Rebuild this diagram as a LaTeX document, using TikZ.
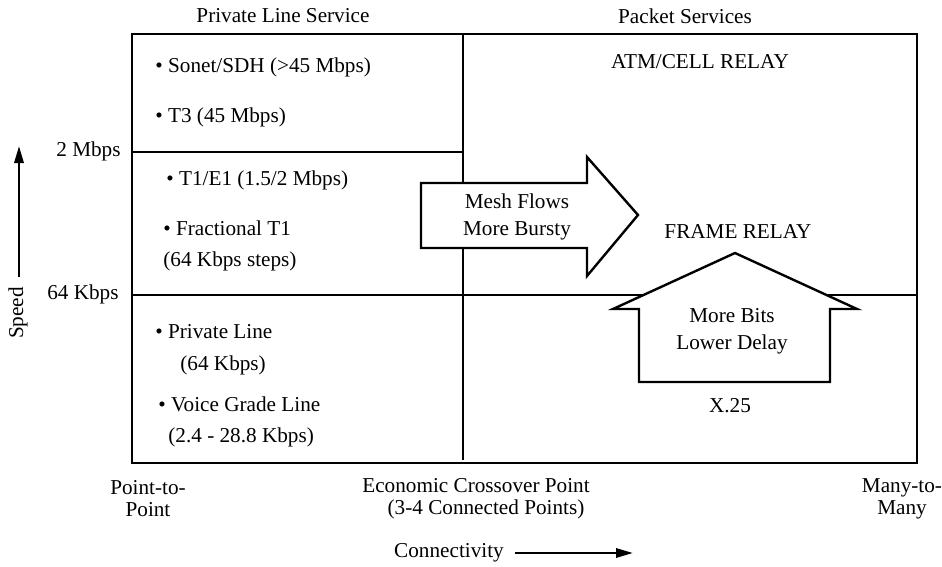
\documentclass[tikz,border=0pt]{standalone}
\usepackage{fontspec}
\setmainfont{Liberation Serif}
\usetikzlibrary{arrows.meta}
\begin{document}
\begin{tikzpicture}[x=0.5pt,y=-0.5pt,
    every node/.style={font=\fontsize{10.6}{13.5}\selectfont,inner sep=0pt},
    grid/.style={line width=0.7pt},
    frame/.style={line width=1.4pt},
    bigarrow/.style={draw,fill=white,line width=1.2pt,line join=miter},
    axis/.style={line width=1.3pt,-{Triangle[length=8.5pt,width=4.6pt]}},
    item/.style={anchor=west}]
    \useasboundingbox (0,0) rectangle (942,567);
    % quadrants
    \draw[grid] (463,34) -- (463,460);
    \draw[grid] (132,152) -- (463,152);
    \draw[grid] (132,295) -- (917,295);
    \draw[frame] (132,34) rectangle (917,463);
    % headings
    \node (pls) at (283,16) {Private Line Service};
    \node (pks) at (685,16) {Packet Services};
    \node (mb2) [anchor=east] at (121,151) {2 Mbps};
    \node (kb64) [anchor=east] at (119,294) {64 Kbps};
    % private line items
    \node (sonet) [item] at (155,67) {• Sonet/SDH (>45 Mbps)};
    \node (t3) [item] at (155,117) {• T3 (45 Mbps)};
    \node (t1) [item] at (166,180) {• T1/E1 (1.5/2 Mbps)};
    \node (frac) [item] at (163,228) {• Fractional T1};
    \node (steps) [item] at (163,261) {(64 Kbps steps)};
    \node (pline) [item] at (155,332) {• Private Line};
    \node (pline64) [item] at (180,365) {(64 Kbps)};
    \node (voice) [item] at (158,404) {• Voice Grade Line};
    \node (voicekb) [item] at (168,437) {(2.4 - 28.8 Kbps)};
    % packet services
    \node (atm) at (700,62) {ATM/CELL RELAY};
    \node (frame) at (738,232) {FRAME RELAY};
    \node (x25) at (730,406) {X.25};
    % big arrows
    \draw[bigarrow] (421,183) -- (587,183) -- (587,157) -- (638,215)
        -- (587,276) -- (587,248) -- (421,248) -- cycle;
    \node (mesh) [align=center] at (517,217) {Mesh Flows\\More Bursty};
    \draw[bigarrow] (639,382) -- (639,309) -- (613,309) -- (735,253)
        -- (857,309) -- (830,309) -- (830,382) -- cycle;
    \node (bits) [align=center] at (732,331) {More Bits\\Lower Delay};
    % axes
    \coordinate (spd0) at (19,277);
    \coordinate (spd1) at (19,146);
    \draw[axis] (spd0) -- (spd1);
    \node (speed) [rotate=90] at (18,313) {Speed};
    \node (conn) at (449,553) {Connectivity};
    \coordinate (con0) at (515,553);
    \coordinate (con1) at (633,553);
    \draw[axis] (con0) -- (con1);
    \node (p2p) [align=center,font=\fontsize{10.6}{11}\selectfont] at (148,499) {Point-to-\\Point};
    \node (eco) [align=center,font=\fontsize{10.6}{11}\selectfont] at (476,499) {Economic Crossover Point\\\hspace*{10pt}(3-4 Connected Points)};
    \node (m2m) [align=center,font=\fontsize{10.6}{11}\selectfont] at (902,499) {Many-to-\\Many};
\end{tikzpicture}
\end{document}
